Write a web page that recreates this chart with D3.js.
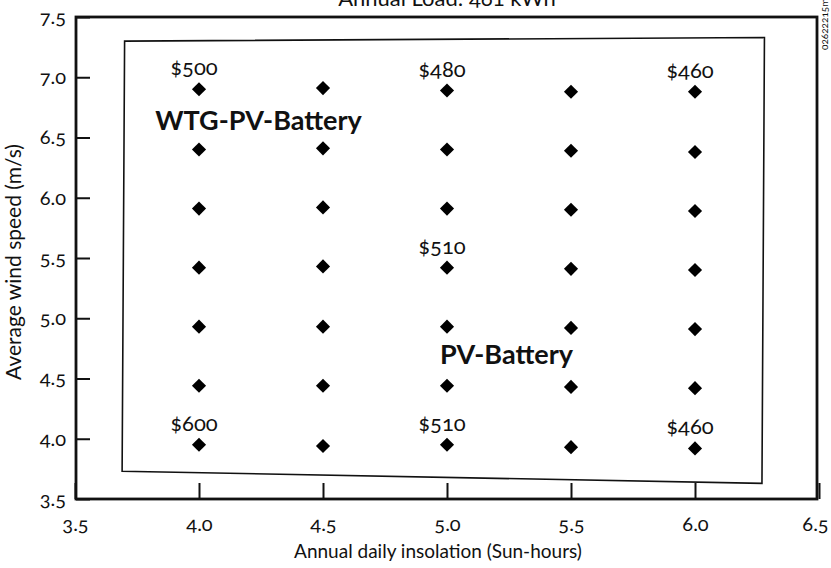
<!DOCTYPE html>
<html>
<head>
<meta charset="utf-8">
<script src="https://cdn.jsdelivr.net/npm/d3@7"></script>
<style>
  body { margin: 0; background: #fff; }
  svg text { font-family: "Lato", "Open Sans", sans-serif; font-variant-numeric: oldstyle-nums; font-feature-settings: "onum"; fill: #111; }
</style>
</head>
<body>
<svg id="chart" width="831" height="568"></svg>
<script>
// grid of simulated cases
var insolation = [4.0, 4.5, 5.0, 5.5, 6.0];
// wind speed of each diamond, one list per insolation column (top to bottom)
var windByColumn = [
    [6.90, 6.40, 5.91, 5.42, 4.93, 4.44, 3.95],
    [6.91, 6.41, 5.92, 5.43, 4.93, 4.44, 3.94],
    [6.89, 6.40, 5.91, 5.42, 4.93, 4.44, 3.95],
    [6.88, 6.39, 5.90, 5.41, 4.92, 4.43, 3.93],
    [6.88, 6.38, 5.89, 5.40, 4.91, 4.42, 3.92]
];
var xTicks = [3.5, 4.0, 4.5, 5.0, 5.5, 6.0, 6.5];
var yTicks = [3.5, 4.0, 4.5, 5.0, 5.5, 6.0, 6.5, 7.0, 7.5];

// cost labels sit above a diamond: [insolation, wind, label]
var costLabels = [
    [4.0, 6.90, "$500"],
    [5.0, 6.89, "$480"],
    [6.0, 6.88, "$460"],
    [5.0, 5.42, "$510"],
    [4.0, 3.95, "$600"],
    [5.0, 3.95, "$510"],
    [6.0, 3.92, "$460"]
];
var regionLabels = [
    [4.24, 6.64, "WTG-PV-Battery"],
    [5.24, 4.70, "PV-Battery"]
];
// outline of the region box (data units)
var boxCorners = [[3.70, 7.30], [6.28, 7.33], [6.27, 3.63], [3.69, 3.73]];

var svg = d3.select("#chart");
var frame = {left: 76, right: 817, top: 17, bottom: 499};

var x = d3.scaleLinear().domain([3.5, 6.5]).range([75, 819]);
var y = d3.scaleLinear().domain([3.5, 7.5]).range([499, 17]);

// title, cut off by the top of the page like in the scan
svg.append("text")
    .attr("x", 447).attr("y", 6)
    .attr("text-anchor", "middle")
    .attr("font-size", 22)
    .text("Annual Load: 461 kWh");

svg.append("text")
    .attr("transform", "translate(828,50) rotate(-90)")
    .attr("font-size", 10)
    .text("02622215m");

// region box
svg.append("path")
    .attr("d", d3.line().x(function(d) { return x(d[0]); }).y(function(d) { return y(d[1]); })(boxCorners) + "Z")
    .attr("fill", "none")
    .attr("stroke", "#111")
    .attr("stroke-width", 1.6);

// axes
var xAxis = svg.append("g")
    .attr("transform", "translate(0," + frame.bottom + ")")
    .call(d3.axisBottom(x).tickValues(xTicks).tickFormat(d3.format(".1f")).tickSizeInner(-16).tickSizeOuter(0).tickPadding(18));
var yAxis = svg.append("g")
    .attr("transform", "translate(" + frame.left + ",0)")
    .call(d3.axisLeft(y).tickValues(yTicks).tickFormat(d3.format(".1f")).tickSizeInner(-14).tickSizeOuter(0).tickPadding(10));

[xAxis, yAxis].forEach(function(g) {
    g.select(".domain").remove();
    g.selectAll(".tick line").attr("stroke", "#111").attr("stroke-width", 2);
    g.selectAll(".tick text").attr("font-size", 20).attr("fill", "#111")
        .style("font-family", "Lato, 'Open Sans', sans-serif");
});
// last x label sits against the page edge
xAxis.selectAll(".tick text").filter(function(d) { return d === 6.5; }).attr("dx", -4);

svg.append("rect")
    .attr("x", frame.left).attr("y", frame.top)
    .attr("width", frame.right - frame.left)
    .attr("height", frame.bottom - frame.top)
    .attr("fill", "none")
    .attr("stroke", "#111")
    .attr("stroke-width", 2.8);

// diamonds
var points = [];
insolation.forEach(function(s, i) {
    windByColumn[i].forEach(function(w) { points.push([s, w]); });
});
var diamond = d3.symbol().type(d3.symbolSquare).size(100);
svg.append("g").selectAll("path")
    .data(points)
    .enter().append("path")
    .attr("d", diamond)
    .attr("transform", function(d) { return "translate(" + x(d[0]) + "," + y(d[1]) + ") rotate(45)"; })
    .attr("fill", "#000");

svg.append("g").selectAll("text")
    .data(costLabels)
    .enter().append("text")
    .attr("x", function(d) { return x(d[0]) - 5; })
    .attr("y", function(d) { return y(d[1]) - 14; })
    .attr("text-anchor", "middle")
    .attr("font-size", 22)
    .text(function(d) { return d[2]; });

svg.append("g").selectAll("text")
    .data(regionLabels)
    .enter().append("text")
    .attr("x", function(d) { return x(d[0]); })
    .attr("y", function(d) { return y(d[1]); })
    .attr("dy", "0.35em")
    .attr("text-anchor", "middle")
    .attr("font-size", 27)
    .attr("font-weight", "bold")
    .text(function(d) { return d[2]; });

// axis titles
svg.append("text")
    .attr("x", 438).attr("y", 558)
    .attr("text-anchor", "middle")
    .attr("font-size", 19)
    .text("Annual daily insolation (Sun-hours)");

svg.append("text")
    .attr("transform", "translate(21,262) rotate(-90)")
    .attr("text-anchor", "middle")
    .attr("font-size", 21)
    .text("Average wind speed (m/s)");
</script>
</body>
</html>
